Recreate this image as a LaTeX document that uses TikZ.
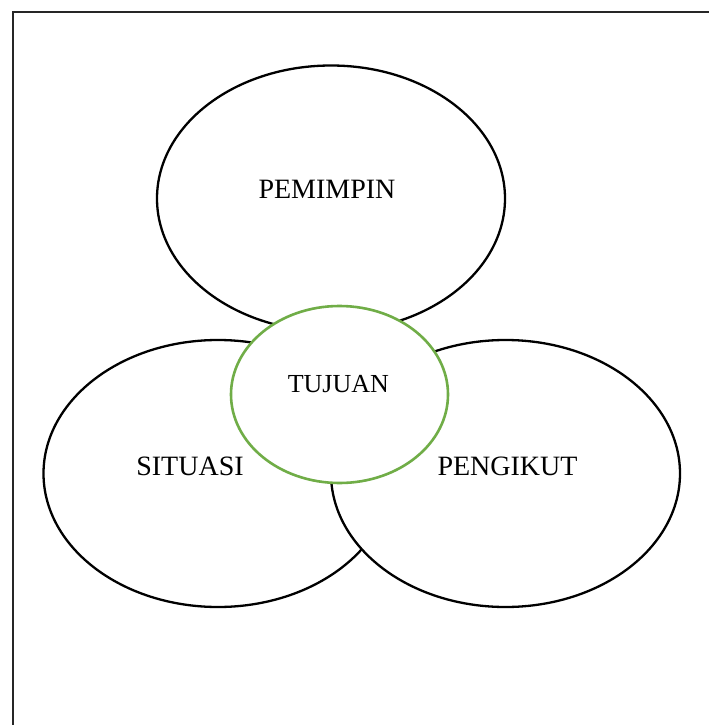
\documentclass[tikz,border=0pt]{standalone}
\usepackage{fontspec}
\setmainfont{Liberation Serif}
\usetikzlibrary{shapes.geometric}
\definecolor{goalgreen}{RGB}{112,173,71}
\begin{document}
\begin{tikzpicture}[x=1pt,y=-1pt,
  part/.style={ellipse, draw=black, line width=2.3pt, fill=white, inner sep=0pt},
  goal/.style={ellipse, draw=goalgreen, line width=2.6pt, fill=white, inner sep=0pt},
  lbl/.style={anchor=base, inner sep=0pt, font=\fontsize{28}{30}\selectfont},
  goallbl/.style={anchor=base, inner sep=0pt, font=\fontsize{26}{28}\selectfont}]
  \useasboundingbox (0,0) rectangle (709,725);
  % open frame along the top and left
  \draw[line width=2pt, black!85] (12.5,725) -- (12.5,12.5) -- (709,12.5);
  % the three overlapping ellipses
  \node[part, minimum width=348pt, minimum height=266pt] (lead) at (331,198.5) {};
  \node[part, minimum width=349pt, minimum height=267pt] (sit) at (218,473.5) {};
  \node[part, minimum width=349pt, minimum height=267pt] (fol) at (505.5,473.5) {};
  % shared goal in the middle
  \node[goal, minimum width=217pt, minimum height=177pt] (goal) at (339.5,394.5) {};
  % labels
  \node[lbl] (tlead) at (327,198.3) {PEMIMPIN};
  \node[lbl] (tsit) at (190,475.5) {SITUASI};
  \node[lbl] (tfol) at (507.5,475.5) {PENGIKUT};
  \node[goallbl] (tgoal) at (338.3,392.3) {TUJUAN};
\end{tikzpicture}
\end{document}
